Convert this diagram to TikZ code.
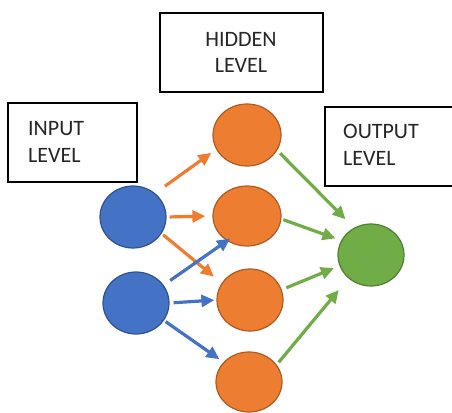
\documentclass[tikz,border=0pt]{standalone}
\usepackage{fontspec}
\setmainfont{Carlito}
\usetikzlibrary{arrows.meta,shapes.geometric}
\definecolor{bfill}{HTML}{4472C4}
\definecolor{bline}{HTML}{2F528F}
\definecolor{ofill}{HTML}{ED7D31}
\definecolor{oline}{HTML}{AE5A21}
\definecolor{gfill}{HTML}{70AD47}
\definecolor{gline}{HTML}{507E32}
\tikzset{
  lbox/.style={draw=black, line width=1.2pt, rectangle, inner sep=0pt},
  lbl/.style={font=\fontsize{22}{26}\selectfont, inner sep=0pt, text=black!85},
  neuron/.style={ellipse, line width=1.2pt, inner sep=0pt},
  bn/.style={neuron, fill=bfill, draw=bline},
  on/.style={neuron, fill=ofill, draw=oline},
  gn/.style={neuron, fill=gfill, draw=gline},
  arr/.style={line width=3.2pt, -{Triangle[length=13pt,width=12pt]}},
  oarr/.style={arr, draw=ofill},
  barr/.style={arr, draw=bfill},
  garr/.style={arr, draw=gfill},
}
\begin{document}
\begin{tikzpicture}[x=1pt,y=-1pt]
\useasboundingbox[fill=white] (0,0) rectangle (452,412);
% boxes
\node[lbox, minimum width=163pt, minimum height=79pt] (hbox) at (241.5,52.5) {};
\node[lbox, minimum width=129pt, minimum height=79pt] (ibox) at (72.5,142.5) {};
\node[lbox, minimum width=130pt, minimum height=79pt] (obox) at (390,146.5) {};
\node[lbl, anchor=base] (ht1) at (241,47) {HIDDEN};
\node[lbl, anchor=base] (ht2) at (241,73) {LEVEL};
\node[lbl, anchor=base west] (it1) at (28,135) {INPUT};
\node[lbl, anchor=base west] (it2) at (28,162) {LEVEL};
\node[lbl, anchor=base west] (ot1) at (343,138) {OUTPUT};
\node[lbl, anchor=base west] (ot2) at (343,165) {LEVEL};
% neurons
\node[bn, minimum width=66pt, minimum height=62pt] (i1) at (133,217) {};
\node[bn, minimum width=66pt, minimum height=62pt] (i2) at (136,303) {};
\node[on, minimum width=68pt, minimum height=62pt] (h1) at (247,135) {};
\node[on, minimum width=68pt, minimum height=60pt] (h2) at (247,216) {};
\node[on, minimum width=66pt, minimum height=62pt] (h3) at (250,300) {};
\node[on, minimum width=66pt, minimum height=60pt] (h4) at (249,382) {};
\node[gn, minimum width=66pt, minimum height=62pt] (o) at (371,255) {};
% arrows
\draw[oarr, shorten <=12pt, shorten >=6pt] (i1.47) -- (h1.205);
\draw[oarr, shorten <=3pt, shorten >=7pt] (i1.east) -- (h2.west);
\draw[oarr, shorten <=2pt, shorten >=10pt] (i1.-30) -- (h3.149);
\draw[barr, shorten <=8pt, shorten >=-4pt] (i2.33) -- (h2.231);
\draw[barr, shorten <=4pt, shorten >=2pt] (i2.east) -- (h3.west);
\draw[barr, shorten <=2pt, shorten >=5pt] (i2.-32) -- (h4.142);
\draw[garr, shorten <=4pt, shorten >=12pt] (h1.-27) -- (o.122);
\draw[garr, shorten <=2pt, shorten >=6pt] (h2.-5) -- (o.154);
\draw[garr, shorten <=5pt, shorten >=6pt] (h3.18) -- (o.199);
\draw[garr, shorten <=3pt, shorten >=15pt] (h4.32) -- (o.226);
\end{tikzpicture}
\end{document}
